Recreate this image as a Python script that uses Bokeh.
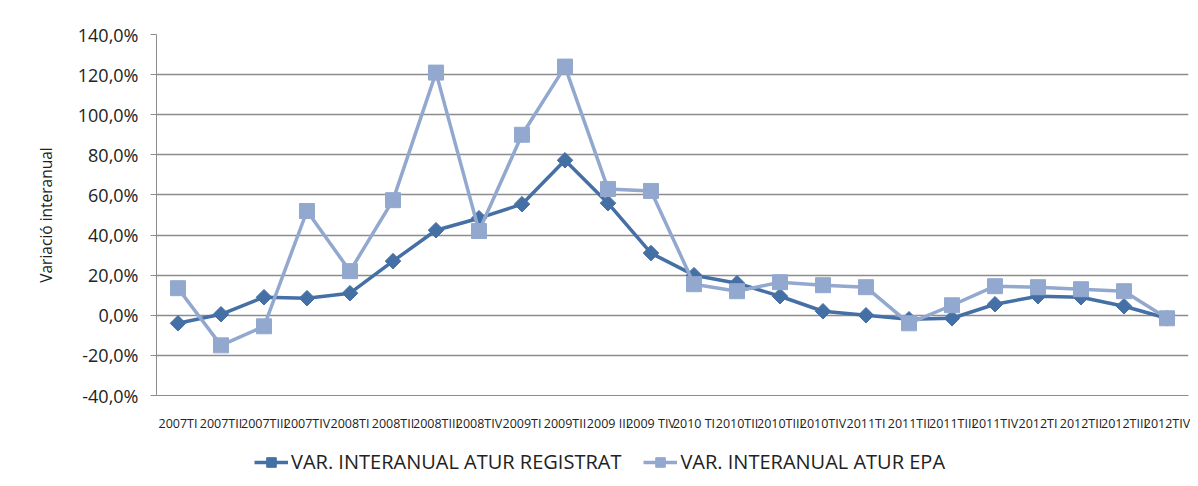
import math
from bokeh.plotting import figure
from bokeh.layouts import column
from bokeh.models import FactorRange, Legend, LegendItem, CustomJSTickFormatter, FixedTicker
from bokeh.embed import file_html
from bokeh.resources import INLINE

quarters = ["2007TI", "2007TII", "2007TIII", "2007TIV",
            "2008TI", "2008TII", "2008TIII", "2008TIV",
            "2009TI", "2009TII", "2009 III", "2009 TIV",
            "2010 TI", "2010TII", "2010TIII", "2010TIV",
            "2011TI", "2011TII", "2011TIII", "2011TIV",
            "2012TI", "2012TII", "2012TIII", "2012TIV"]
atur_registrat = [-4.0, 0.5, 9.0, 8.5, 11.0, 27.0, 42.4, 48.4, 55.4, 77.3, 55.9, 31.0,
                  20.0, 16.0, 9.5, 2.0, 0.0, -2.0, -1.5, 5.5, 9.5, 9.0, 4.5, -1.5]
atur_epa = [13.5, -15.0, -5.5, 52.0, 22.0, 57.4, 121.0, 42.0, 90.0, 124.0, 63.0, 62.0,
            15.5, 12.0, 16.5, 15.0, 14.0, -4.0, 5.0, 14.5, 14.0, 13.0, 12.0, -1.5]
y_ticks = [-40, -20, 0, 20, 40, 60, 80, 100, 120, 140]
series_names = ["VAR. INTERANUAL ATUR REGISTRAT", "VAR. INTERANUAL ATUR EPA"]

DARK = "#4470a6"
LIGHT = "#93a8cf"
FONT = "Open Sans"

p = figure(width=1190, height=440, x_range=FactorRange(factors=quarters),
           y_range=(-40, 140), output_backend="svg", toolbar_location=None,
           min_border_left=156, min_border_right=2, min_border_top=34, min_border_bottom=45)

p.outline_line_color = None
p.xgrid.grid_line_color = None
p.ygrid.grid_line_color = "#8c8c8c"
p.ygrid.grid_line_width = 1.3
p.yaxis.ticker = FixedTicker(ticks=y_ticks)
p.yaxis.formatter = CustomJSTickFormatter(code="return tick.toFixed(1).replace('.', ',') + '%';")
p.yaxis.axis_line_color = "#8c8c8c"
p.yaxis.major_tick_line_color = "#8c8c8c"
p.yaxis.major_tick_out = 6
p.yaxis.major_tick_in = 0
p.yaxis.minor_tick_line_color = None
p.yaxis.major_label_text_font = FONT
p.yaxis.major_label_text_font_size = "18px"
p.yaxis.major_label_text_color = "#222222"
p.yaxis.major_label_standoff = 12
p.yaxis.axis_label = "Variació interanual"
p.yaxis.axis_label_text_font = FONT
p.yaxis.axis_label_text_font_size = "15.5px"
p.yaxis.axis_label_text_font_style = "normal"
p.yaxis.axis_label_text_color = "#222222"
p.yaxis.axis_label_standoff = 18

p.xaxis.axis_line_color = "#8c8c8c"
p.xaxis.major_tick_line_color = None
p.xaxis.minor_tick_line_color = None
p.xaxis.major_label_text_font = FONT
p.xaxis.major_label_text_font_size = "12.5px"
p.xaxis.major_label_text_color = "#222222"
p.xaxis.major_label_standoff = 13

l1 = p.line(quarters, atur_registrat, line_color=DARK, line_width=3.5)
s1 = p.scatter(quarters, atur_registrat, marker="square", angle=math.pi / 4, size=11,
               fill_color=DARK, line_color=DARK)
l2 = p.line(quarters, atur_epa, line_color=LIGHT, line_width=3.5)
s2 = p.scatter(quarters, atur_epa, marker="square", size=15, fill_color=LIGHT, line_color=LIGHT)

# legend strip below the chart: the same series, drawn off-range so only the legend shows
q = figure(width=1190, height=38, x_range=FactorRange(factors=quarters), y_range=(1000, 1001),
           output_backend="svg", toolbar_location=None, min_border=0,
           x_axis_type=None, y_axis_type=None)
q.outline_line_color = None
q.xgrid.visible = False
q.ygrid.visible = False
k1 = q.line(quarters, atur_registrat, line_color=DARK, line_width=3.5)
m1 = q.scatter(quarters, atur_registrat, marker="square", angle=math.pi / 4, size=11,
               fill_color=DARK, line_color=DARK)
k2 = q.line(quarters, atur_epa, line_color=LIGHT, line_width=3.5)
m2 = q.scatter(quarters, atur_epa, marker="square", size=15, fill_color=LIGHT, line_color=LIGHT)

legend = Legend(items=[LegendItem(label=series_names[0], renderers=[k1, m1]),
                       LegendItem(label=series_names[1], renderers=[k2, m2])],
                orientation="horizontal", location=(98, 3),
                label_text_font=FONT, label_text_font_size="20px", label_text_color="#222222",
                glyph_width=34, glyph_height=24, spacing=22, border_line_color=None,
                background_fill_alpha=0, padding=4, margin=0, label_standoff=3)
q.add_layout(legend, "center")

layout = column(p, q, spacing=0)
open("out.html", "w").write(file_html(layout, INLINE))
